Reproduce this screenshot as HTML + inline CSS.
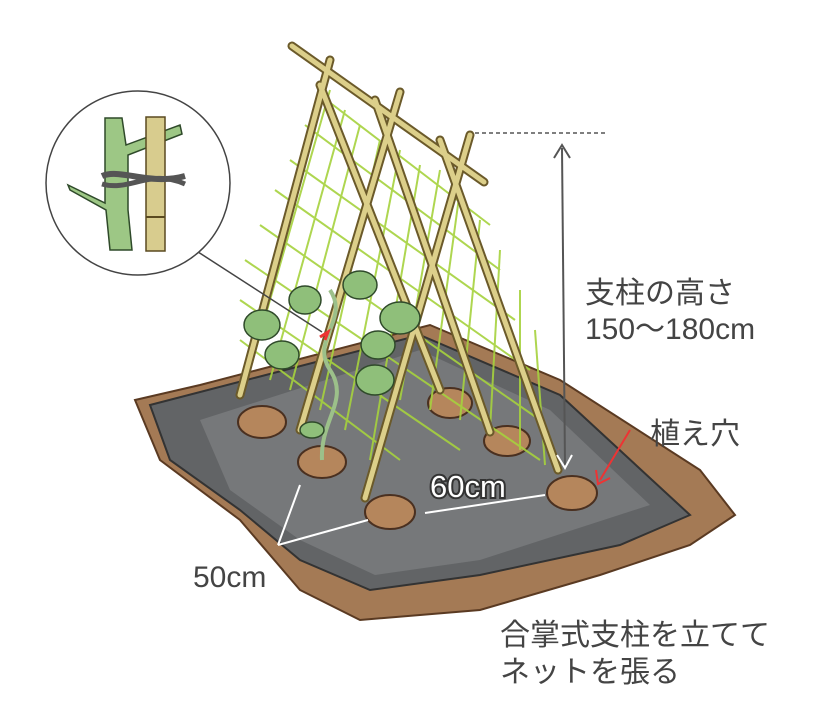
<!DOCTYPE html>
<html><head><meta charset="utf-8"><style>
body{margin:0;background:#fff;}
svg{display:block;}
text{font-family:"Liberation Sans","Noto Sans CJK JP",sans-serif;}
</style></head><body>
<svg width="840" height="722" viewBox="0 0 840 722" xmlns="http://www.w3.org/2000/svg">
<!-- soil -->
<polygon points="135,400 200,385 430,325 560,380 700,470 735,515 690,545 600,575 480,610 360,620 300,590 240,520 160,460" fill="#a47a55" stroke="#5a3a22" stroke-width="2"/>
<polygon points="150,405 420,335 560,395 690,515 620,545 480,575 370,590 300,560 240,510 170,460" fill="#626466" stroke="#333" stroke-width="2"/>
<polygon points="200,420 420,350 550,410 650,505 480,560 375,575 300,540 230,490" fill="#76787a"/>
<!-- holes -->
<g fill="#b5865c" stroke="#4a3020" stroke-width="2">
<ellipse cx="262" cy="422" rx="24" ry="16"/>
<ellipse cx="322" cy="462" rx="24" ry="16"/>
<ellipse cx="390" cy="512" rx="25" ry="17"/>
<ellipse cx="450" cy="403" rx="22" ry="15"/>
<ellipse cx="507" cy="441" rx="23" ry="15"/>
<ellipse cx="572" cy="493" rx="25" ry="17"/>
</g>
<!-- net -->
<g stroke="#a6d23e" stroke-width="2" opacity="0.9">
<line x1="250" y1="370" x2="330" y2="90"/><line x1="270" y1="380" x2="345" y2="110"/><line x1="290" y1="390" x2="360" y2="125"/>
<line x1="320" y1="410" x2="380" y2="140"/><line x1="345" y1="430" x2="400" y2="150"/><line x1="370" y1="460" x2="420" y2="165"/>
<line x1="400" y1="400" x2="440" y2="170"/><line x1="430" y1="410" x2="460" y2="190"/><line x1="460" y1="420" x2="480" y2="220"/>
<line x1="490" y1="430" x2="500" y2="250"/><line x1="520" y1="450" x2="520" y2="290"/><line x1="545" y1="465" x2="535" y2="330"/>
<line x1="245" y1="260" x2="540" y2="460"/><line x1="260" y1="225" x2="540" y2="420"/><line x1="275" y1="190" x2="530" y2="370"/>
<line x1="290" y1="160" x2="515" y2="320"/><line x1="305" y1="125" x2="500" y2="270"/><line x1="320" y1="95" x2="490" y2="225"/>
<line x1="240" y1="300" x2="460" y2="450"/><line x1="240" y1="340" x2="400" y2="460"/>
</g>
<!-- poles -->
<g stroke="#6b5a2a" stroke-width="9" stroke-linecap="round">
<line x1="240" y1="395" x2="330" y2="60"/><line x1="300" y1="430" x2="400" y2="92"/>
<line x1="365" y1="498" x2="470" y2="135"/>
<line x1="440" y1="390" x2="320" y2="85"/><line x1="490" y1="432" x2="375" y2="100"/>
<line x1="558" y1="470" x2="440" y2="140"/>
<line x1="292" y1="46" x2="484" y2="182"/>
</g>
<g stroke="#dccf8a" stroke-width="5" stroke-linecap="round">
<line x1="240" y1="395" x2="330" y2="60"/><line x1="300" y1="430" x2="400" y2="92"/>
<line x1="365" y1="498" x2="470" y2="135"/>
<line x1="440" y1="390" x2="320" y2="85"/><line x1="490" y1="432" x2="375" y2="100"/>
<line x1="558" y1="470" x2="440" y2="140"/>
<line x1="292" y1="46" x2="484" y2="182"/>
</g>
<!-- plant -->
<path d="M322,460 C320,420 350,400 330,370 C310,340 350,320 330,290" stroke="#9cc08a" stroke-width="4" fill="none"/>
<g fill="#8fbf7a" stroke="#2f4a2a" stroke-width="1.5">
<ellipse cx="262" cy="325" rx="18" ry="15"/><ellipse cx="305" cy="300" rx="16" ry="14"/>
<ellipse cx="360" cy="285" rx="17" ry="14"/><ellipse cx="400" cy="318" rx="20" ry="16"/>
<ellipse cx="378" cy="345" rx="17" ry="14"/><ellipse cx="282" cy="355" rx="17" ry="14"/>
<ellipse cx="375" cy="380" rx="19" ry="15"/><ellipse cx="312" cy="430" rx="12" ry="8"/>
</g>
<path d="M320,337 l8,-5 l-3,8" stroke="#e33" stroke-width="3" fill="none"/>
<!-- inset -->
<line x1="195" y1="250" x2="322" y2="332" stroke="#444" stroke-width="1.5"/>
<circle cx="138" cy="183" r="92" fill="#fff" stroke="#444" stroke-width="1.5"/>
<path d="M105,118 L122,118 L126,145 L180,125 L182,134 L128,155 L128,210 L132,250 L110,250 L106,210 L70,190 L68,185 L105,203 Z" fill="#9dc785" stroke="#2f4a2a" stroke-width="1.5"/>
<rect x="146" y="117" width="19" height="134" fill="#d8cc8e" stroke="#5a4a20" stroke-width="1.5"/>
<line x1="146" y1="217" x2="165" y2="217" stroke="#5a4a20" stroke-width="2"/>
<path d="M102,176 C120,168 150,186 185,176" stroke="#555" stroke-width="6" fill="none"/>
<path d="M102,184 C130,192 150,168 185,184" stroke="#555" stroke-width="5" fill="none"/>
<!-- dimension -->
<line x1="475" y1="133" x2="605" y2="133" stroke="#333" stroke-width="1.2" stroke-dasharray="4,3"/>
<line x1="562" y1="148" x2="565" y2="465" stroke="#555" stroke-width="2"/>
<path d="M554,158 L562,145 L570,158" stroke="#555" stroke-width="2" fill="none"/>
<path d="M557,455 L565,468 L572,455" stroke="#fff" stroke-width="2" fill="none"/>
<path d="M630,430 L600,480" stroke="#e33" stroke-width="2"/>
<path d="M596,470 L598,484 L610,478" stroke="#e33" stroke-width="2" fill="none"/>
<line x1="425" y1="513" x2="545" y2="495" stroke="#fff" stroke-width="2"/>
<line x1="368" y1="520" x2="278" y2="545" stroke="#fff" stroke-width="2"/>
<line x1="300" y1="485" x2="278" y2="545" stroke="#fff" stroke-width="2"/>
<!-- text -->
<g font-size="30" fill="#444">
<text x="585" y="303">支柱の高さ</text>
<text x="585" y="339">150〜180cm</text>
<text x="650" y="444">植え穴</text>
<text x="193" y="587">50cm</text>
<text x="500" y="645">合掌式支柱を立てて</text>
<text x="500" y="682">ネットを張る</text>
</g>
<text x="430" y="497" font-size="31" fill="#fff" stroke="#333" stroke-width="4" paint-order="stroke">60cm</text>
</svg>
</body></html>
